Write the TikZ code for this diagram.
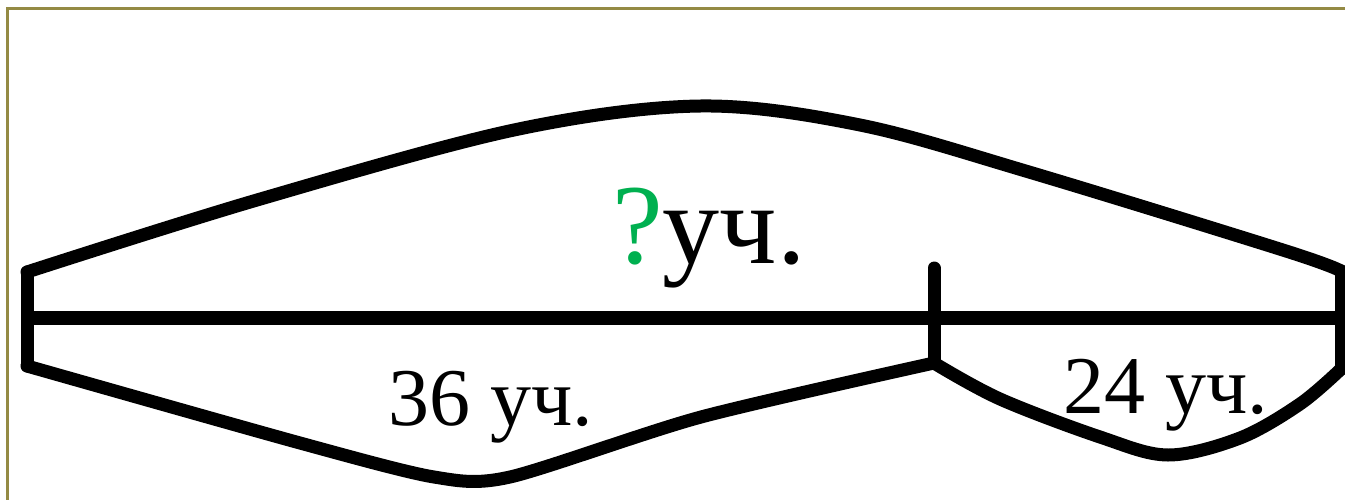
\documentclass[tikz,border=0pt]{standalone}
\usepackage{fontspec}
\setmainfont{Liberation Serif}
\definecolor{frameolive}{RGB}{148,138,68}
\definecolor{qgreen}{RGB}{0,176,80}
\begin{document}
\begin{tikzpicture}[x=1pt,y=-1pt,
  thick line/.style={line width=13pt, line join=round, line cap=round},
  seglabel/.style={anchor=base west, inner sep=0pt, font=\fontsize{82}{98}\selectfont},
  framestyle/.style={draw=frameolive, line width=3pt}]
\useasboundingbox (0,0) rectangle (1345,499);
\fill[white] (0,0) rectangle (1345,499);
\draw[framestyle] (7,520) -- (7,8) -- (1360,8);
% named points
\coordinate (Ltop) at (27,272);
\coordinate (Lbot) at (27,366);
\coordinate (Mtop) at (934,268);
\coordinate (Mbot) at (934,363);
\coordinate (Rtop) at (1341,271);
\coordinate (Rbot) at (1341,369);
% main segment
\draw[line width=14pt] (22,318) -- (1352,318);
% ticks
\draw[thick line] (Ltop) -- (Lbot);
\draw[thick line] (Mtop) -- (Mbot);
\draw[thick line] (Rtop) -- (Rbot);
% upper brace
\draw[thick line] plot[smooth, tension=0.55] coordinates {(Ltop) (257,200) (514,130) (700,106) (860,125) (1029,172) (1286,251) (Rtop)};
% lower left brace
\draw[thick line] plot[smooth, tension=0.45] coordinates {(Lbot) (300,443) (434,477) (510,477) (701,417) (Mbot)};
% lower right brace
\draw[thick line] plot[smooth, tension=0.55] coordinates {(Mbot) (1000,399) (1100,437) (1168,455) (1240,438) (1300,404) (Rbot)};
% labels
\node[anchor=base west, inner sep=0pt, font=\fontsize{114}{134}\selectfont] (q) at (612,263) {\textcolor{qgreen}{?}уч.};
\node[seglabel] (a) at (388,425) {36 уч.};
\node[seglabel] (b) at (1063,413) {24 уч.};
\end{tikzpicture}
\end{document}
